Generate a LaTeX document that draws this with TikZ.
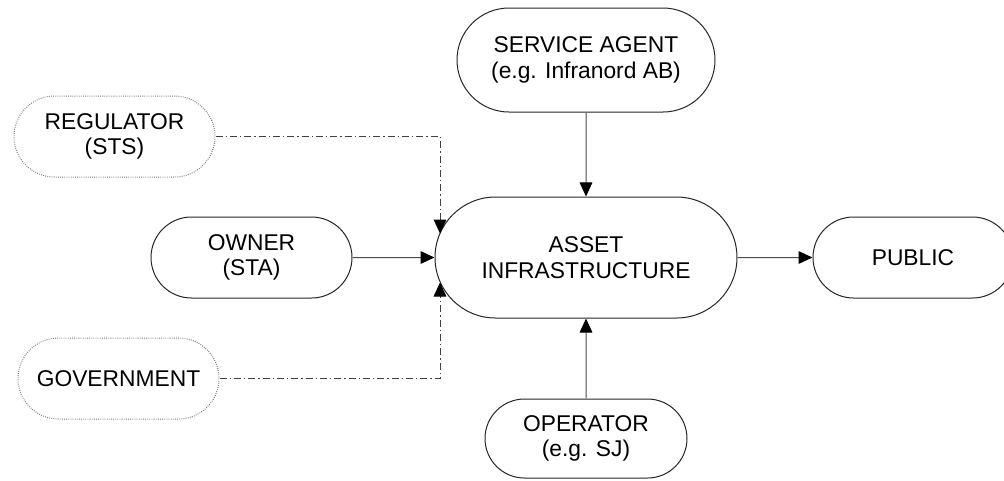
\documentclass[tikz,border=0pt]{standalone}
\usepackage{fontspec}
\setmainfont{Liberation Sans}
\usetikzlibrary{shapes.misc,arrows.meta,calc}
\begin{document}
\begin{tikzpicture}[x=0.75pt,y=-0.75pt,
  every node/.style={font=\fontsize{17.1pt}{19.2pt}\selectfont, align=center, inner sep=0pt},
  pill/.style={rounded rectangle, draw=black!85, line width=0.75pt, fill=white},
  hint/.style={rounded rectangle, draw=black!55, line width=0.75pt, dash pattern=on 0.6pt off 1pt},
  flow/.style={draw=black!70, line width=0.75pt, -{Triangle[length=10.5pt,width=9.5pt,color=black]}},
  link/.style={draw=black!75, line width=0.75pt,
    dash pattern=on 5.25pt off 2.25pt on 1pt off 2.25pt,
    -{Triangle[length=10.5pt,width=9.5pt,color=black]}}
]
\useasboundingbox (0,0) rectangle (1004,480);

% actors
\node[hint, minimum width=150.75pt, minimum height=60.75pt] (reg) at (114.5,136.5) {REGULATOR\\(STS)};
\node[hint, minimum width=150.75pt, minimum height=60.75pt] (gov) at (118.5,378.5) {GOVERNMENT};
\node[pill, minimum width=150.75pt, minimum height=60.75pt] (owner) at (251.5,257.5) {OWNER\\(STA)};
\node[pill, minimum width=226.5pt, minimum height=90.75pt] (asset) at (586,257.5) {ASSET\\INFRASTRUCTURE};
\node[pill, minimum width=193.5pt, minimum height=78pt] (svc) at (586,60) {SERVICE AGENT\\(e.g. Infranord AB)};
\node[pill, minimum width=151.5pt, minimum height=59.25pt] (op) at (586,438.5) {OPERATOR\\(e.g. SJ)};
\node[pill, minimum width=150pt, minimum height=60.75pt] (pub) at (913,257.5) {PUBLIC};

% entry points of the dash-dotted links on the left arc of the asset
\coordinate (assetUp) at ($(asset.center)+(-146,-24)$);
\coordinate (assetDown) at ($(asset.center)+(-146,25)$);

% flows
\draw[flow] (svc) -- (asset);
\draw[flow] (owner) -- (asset);
\draw[flow] (asset) -- (pub);
\draw[flow] (op) -- (asset);
\draw[link] (reg.east) -| (assetUp);
\draw[link] (gov.east) -| (assetDown);
\end{tikzpicture}
\end{document}
